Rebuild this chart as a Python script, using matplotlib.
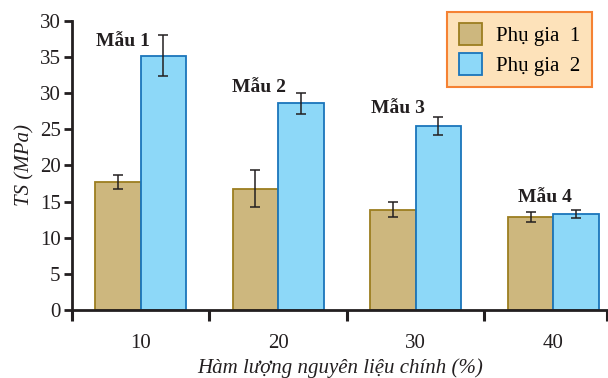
import numpy as np
import matplotlib.pyplot as plt

# data
categories = ["10", "20", "30", "40"]
phu_gia_1 = [17.7, 16.8, 13.9, 12.9]
err_1 = [1.0, 2.6, 1.0, 0.7]
phu_gia_2 = [35.2, 28.6, 25.4, 13.3]
err_2 = [2.85, 1.45, 1.25, 0.55]
y_ticks = [0, 5, 10, 15, 20, 25, 30, 35, 40]
y_tick_labels = ["0", "5", "10", "15", "20", "25", "30", "35", "30"]
sample_labels = ["Mẫu 1", "Mẫu 2", "Mẫu 3", "Mẫu 4"]

plt.rcParams["font.family"] = ["Liberation Serif", "DejaVu Serif"]

dark = "#231F20"
tan_fill, tan_edge = "#CDB77E", "#9C7E20"
blue_fill, blue_edge = "#8DD8F8", "#1A75BB"

fig = plt.figure(figsize=(6.08, 3.78), dpi=100)
ax = fig.add_axes([0.118, 0.18, 0.882, 0.7646])

x = np.arange(len(categories))
w = 0.33
err_kw = dict(ecolor=dark, elinewidth=1.1, capsize=3.3, capthick=1.1)

ax.bar(x - w / 2, phu_gia_1, w, yerr=err_1, color=tan_fill, edgecolor=tan_edge,
       linewidth=1.3, error_kw=err_kw, label="Phụ gia  1")
ax.bar(x + w / 2, phu_gia_2, w, yerr=err_2, color=blue_fill, edgecolor=blue_edge,
       linewidth=1.3, error_kw=err_kw, label="Phụ gia  2")

# sample labels above the groups
label_pos = [(-0.13, 37.2), (0.86, 30.8), (1.87, 27.9), (2.94, 15.6)]
for (lx, ly), txt in zip(label_pos, sample_labels):
    ax.text(lx, ly, txt, ha="center", va="center", fontsize=14,
            fontweight="bold", color=dark)

ax.set_xlim(-0.5, 3.398)
ax.set_ylim(0, 40)
ax.set_yticks(y_ticks)
ax.set_yticklabels(y_tick_labels, fontsize=15, color=dark)
ax.set_xticks(x)
ax.set_xticklabels(categories, fontsize=15, color=dark)
ax.set_xticks([-0.5, 0.5, 1.5, 2.5, 3.39], minor=True)
ax.tick_params(axis="x", which="major", length=0, pad=17)
ax.tick_params(axis="x", which="minor", length=8, width=2.2, color=dark)
ax.tick_params(axis="y", length=6, width=2, color=dark, pad=2)

for side in ["top", "right"]:
    ax.spines[side].set_visible(False)
for side in ["left", "bottom"]:
    ax.spines[side].set_linewidth(2)
    ax.spines[side].set_color(dark)

ax.set_ylabel("TS (MPa)", fontsize=15, style="italic", color=dark, labelpad=4)
ax.set_xlabel("Hàm lượng nguyên liệu chính (%)", fontsize=15, style="italic",
              color=dark, labelpad=4)

leg = ax.legend(loc="upper right", bbox_to_anchor=(592 / 608, 1 - 12 / 378),
                bbox_transform=fig.transFigure, borderaxespad=0, fontsize=15,
                fancybox=False, framealpha=1, handlelength=1.1, handleheight=1.25,
                handletextpad=0.7, borderpad=0.55, labelspacing=0.3)
leg.get_frame().set_facecolor("#FDE2BA")
leg.get_frame().set_edgecolor("#F58233")
leg.get_frame().set_linewidth(1.5)

fig.savefig("out.png", dpi=100)
